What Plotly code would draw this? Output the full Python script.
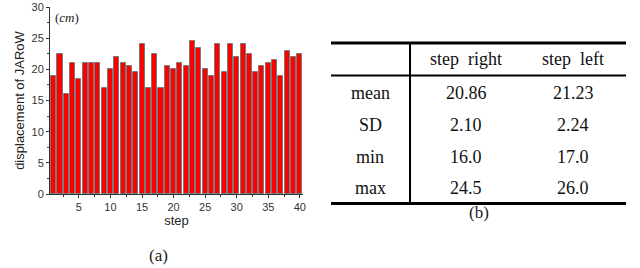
import plotly.graph_objects as go

W, H = 640, 268

steps = list(range(1, 41))
displacement = [19, 22.5, 16, 21, 18.5, 21, 21, 21, 17, 20,
                22, 21, 20.5, 19.5, 24, 17, 22.5, 17, 20.5, 20,
                21, 20.5, 24.5, 23.5, 20, 19, 24, 19.5, 24, 22,
                24, 22.5, 19.5, 20.5, 21, 21.5, 19, 23, 22, 22.5]

y_ticks = [0, 5, 10, 15, 20, 25, 30]
x_ticks = [5, 10, 15, 20, 25, 30, 35, 40]

table_cols = ["step right", "step left"]
table_rows = ["mean", "SD", "min", "max"]
table_right = ["20.86", "2.10", "16.0", "24.5"]
table_left = ["21.23", "2.24", "17.0", "26.0"]

def px(x):
    return x / W

def py(y):
    return 1 - y / H

fig = go.Figure()
fig.add_trace(go.Bar(
    x=steps, y=displacement, width=0.8,
    marker=dict(color="#ff0000", line=dict(color="#7a7a7a", width=1)),
))

fig.update_layout(
    width=W, height=H, autosize=False,
    margin=dict(l=0, r=0, t=0, b=0, pad=0),
    paper_bgcolor="white", plot_bgcolor="white",
    showlegend=False, bargap=0,
    font=dict(family="Liberation Sans, Arial", color="#222"),
    xaxis=dict(
        domain=[px(50), px(303)], range=[0.42, 40.5], automargin=False,
        tickvals=x_ticks, ticks="outside", ticklen=3, tickwidth=1,
        tickcolor="#333", showline=True, linecolor="#333", linewidth=1,
        showgrid=False, zeroline=False, tickfont=dict(size=11, color="#333"),
        minor=dict(tickvals=[2.5 + 5 * i for i in range(8)], ticks="outside",
                   ticklen=2, tickcolor="#333"),
        title=dict(text="step", font=dict(size=13), standoff=1),
    ),
    yaxis=dict(
        domain=[py(194), py(7)], range=[0, 30], automargin=False,
        tickvals=y_ticks, ticks="outside", ticklen=3, tickwidth=1,
        tickcolor="#333", showline=True, linecolor="#333", linewidth=1,
        showgrid=False, zeroline=False, tickfont=dict(size=11, color="#333"),
        minor=dict(tickvals=[2.5 + 5 * i for i in range(6)], ticks="outside",
                   ticklen=2, tickcolor="#333"),
        title=dict(text="displacement of JARoW", font=dict(size=13), standoff=3),
    ),
)

serif = "Liberation Serif, Times New Roman, serif"

def note(x, y, text, size, color="#111"):
    return dict(x=px(x), y=py(y), xref="paper", yref="paper", text=text,
                xanchor="center", yanchor="middle", showarrow=False,
                font=dict(family=serif, size=size, color=color))

anns = [
    note(67, 18, "(<i>cm</i>)", 13, "#222"),
    note(158, 255, "(a)", 17, "#222"),
    note(479, 212, "(b)", 17, "#222"),
]

col_x = [466, 573]
row_y = [92.5, 125, 156.5, 188]
for cx, name in zip(col_x, table_cols):
    anns.append(note(cx, 59, name.replace(" ", "&nbsp;&nbsp;"), 18))
for ry, name, r, l in zip(row_y, table_rows, table_right, table_left):
    anns.append(note(370, ry, name, 18))
    anns.append(note(col_x[0], ry, r, 18))
    anns.append(note(col_x[1], ry, l, 18))
fig.update_layout(annotations=anns)

shapes = []
for yy, w in [(43, 3), (75.5, 2), (203.5, 3)]:
    shapes.append(dict(type="line", xref="paper", yref="paper",
                       x0=px(331), x1=px(626), y0=py(yy), y1=py(yy),
                       line=dict(color="black", width=w)))
shapes.append(dict(type="line", xref="paper", yref="paper",
                   x0=px(410), x1=px(410), y0=py(43), y1=py(203.5),
                   line=dict(color="black", width=2)))
fig.update_layout(shapes=shapes)

fig.write_html("out.html", config={"displayModeBar": False},
               post_script="document.body.style.margin='0';document.body.style.overflow='hidden';")
